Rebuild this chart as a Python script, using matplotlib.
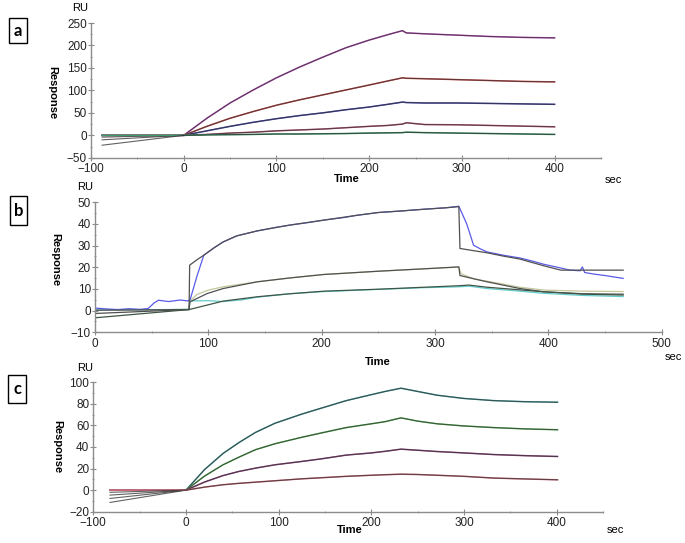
import matplotlib
matplotlib.use("Agg")
import matplotlib.pyplot as plt
from matplotlib.patches import Rectangle
from matplotlib.ticker import MultipleLocator

plt.rcParams["font.family"] = ["Liberation Sans", "DejaVu Sans"]

# ---- panel a: sensorgrams (sec, RU) ----
a_t = [-88, -60, -30, 0, 25, 50, 75, 100, 125, 150, 175, 200, 220, 236, 240,
       260, 295, 330, 365, 400]
a_curves = [
    [0, 0, 0, 0, 38, 72, 101, 128, 152, 174, 195, 212, 224, 233, 228, 226, 223, 220, 218, 217],
    [0, 0, 0, 0, 20, 38, 53, 67, 79, 90, 101, 112, 121, 128, 127, 126, 124, 122, 120, 119],
    [0, 0, 0, 0, 10, 20, 29, 37, 44, 50, 57, 63, 69, 74, 73, 72, 72, 71, 70, 69],
    [0, 0, 0, 0, 2, 5, 7, 10, 12, 14, 17, 20, 22, 25, 28, 24, 23.5, 22, 20.5, 19],
    [0, 0, 0, 0, 1, 1.5, 2, 3, 3, 3.5, 4, 5, 5.5, 6, 7, 6, 5, 4, 3, 2],
]
a_fit_start = [0, 0, -4, -10, -22]
a_colors = ["#c24fc2", "#d24a4a", "#4646b4", "#c25a7c", "#3a9a6a"]

# ---- panel b ----
b1_t = [0, 10, 20, 30, 40, 47, 52, 56, 65, 75, 82, 84, 90, 96, 105, 113, 125, 143,
        160, 172, 190, 202, 220, 231, 250, 270, 290, 310, 321, 328, 334, 340, 346,
        360, 375, 385, 396, 410, 419, 428, 430, 432, 440, 450, 466]
b1_y = [1.2, 0.8, 0.5, 0.9, 0.6, 1.0, 3.5, 4.8, 4.2, 4.9, 4.5, 5.2, 16, 25.6, 29,
        31.7, 34.5, 36.8, 38.5, 39.5, 40.8, 41.8, 43, 44, 45.3, 46, 46.8, 47.5, 48.2,
        40, 30.2, 28.5, 27.1, 25.6, 24.3, 23, 21.4, 19.8, 18.7, 18.4, 20.2, 17.6,
        16.9, 16.2, 14.9]
b1_fit_t = [0, 83, 83.5, 90, 96, 105, 113, 125, 143, 172, 202, 231, 250, 270, 290,
            310, 321, 322, 335, 346, 360, 375, 396, 411, 466]
b1_fit_y = [0.2, 0.5, 21, 23.5, 25.6, 29, 31.7, 34.5, 36.8, 39.5, 41.8, 44, 45.3,
            46, 46.8, 47.5, 48, 28.7, 27.6, 26.7, 25.2, 23.8, 20.7, 18.7, 18.7]

b2_t = [0, 40, 83, 84, 90, 100, 113, 143, 172, 202, 250, 290, 321, 323, 335, 346,
        375, 396, 431, 466]
b2_y = [0.3, 0.3, 0.6, 4.5, 7.5, 9.5, 11, 13.3, 15.1, 16.7, 18.2, 19.3, 20.1, 17,
        14.5, 13.6, 10.8, 9.5, 9.0, 8.8]
b2_fit_t = [0, 83, 83.5, 99, 113, 143, 172, 202, 250, 290, 321, 322, 346, 375, 396,
            431, 466]
b2_fit_y = [-1.3, 0.5, 4, 7.9, 10.2, 13.3, 15.1, 16.7, 18.2, 19.3, 20.2, 16.2, 13.3,
            10.2, 8.7, 7.8, 7.6]

b3_t = [0, 40, 83, 84, 100, 113, 130, 143, 172, 202, 250, 290, 321, 330, 346, 375,
        396, 431, 466]
b3_y = [0.4, 0.4, 0.6, 4.5, 4.6, 4.2, 5.0, 6.2, 7.8, 8.8, 9.8, 10.6, 11.0, 11.3,
        10.2, 9.0, 8.0, 7.0, 6.5]
b3_fit_t = [0, 83, 113, 143, 172, 202, 250, 290, 321, 330, 346, 375, 396, 431, 466]
b3_fit_y = [-3.3, 0.5, 4.4, 6.4, 7.8, 9.0, 9.9, 10.8, 11.5, 11.8, 10.8, 9.6, 8.7,
            7.6, 7.2]

# ---- panel c ----
c_t = [-82, 0, 20, 40, 57, 75, 96, 125, 146, 173, 200, 215, 232, 250, 271, 300,
       332, 365, 401]
c_curves = [
    [0, 0, 19, 34, 44, 53.5, 62, 70.5, 76, 83, 88.5, 91.5, 94.5, 91.5, 88, 85, 83, 82, 81.5],
    [0, 0, 13, 23.5, 30.5, 37.5, 43, 49, 53, 58, 61.5, 63.5, 67, 64, 61.5, 59.5, 58, 56.8, 56],
    [0, 0, 7.5, 13.5, 17.3, 20.4, 23.5, 26.6, 29, 32.5, 34.5, 36, 38, 37, 35.8, 34.5, 33, 32, 31.2],
    [0, 0, 2.8, 5, 6.3, 7.4, 8.7, 10.5, 11.5, 12.8, 13.8, 14.3, 14.8, 14.5, 13.8, 12.8, 11.2, 10.4, 9.6],
]
c_fit_start = [-11.4, -7.7, -4.6, -2.0]
c_colors = ["#4aa3a3", "#5cb85c", "#9a4a8a", "#d06a7a"]

FIT = "#2e2e2e"
SPINE = "#8c8c8c"


def style(ax, xlim, ylim, xmaj, ymaj, xmin, ymin):
    for s in ("top", "right"):
        ax.spines[s].set_visible(False)
    for s in ("left", "bottom"):
        ax.spines[s].set_color(SPINE)
        ax.spines[s].set_linewidth(1.0)
    ax.set_xlim(*xlim)
    ax.set_ylim(*ylim)
    ax.xaxis.set_major_locator(MultipleLocator(xmaj))
    ax.yaxis.set_major_locator(MultipleLocator(ymaj))
    ax.xaxis.set_minor_locator(MultipleLocator(xmin))
    ax.yaxis.set_minor_locator(MultipleLocator(ymin))
    ax.tick_params(which="major", direction="inout", length=4, width=0.8,
                   color=SPINE, labelsize=8.5, labelcolor="#222222")
    ax.tick_params(which="minor", direction="inout", length=2, width=0.6, color=SPINE)
    ax.tick_params(axis="y", pad=1)
    ax.tick_params(axis="x", pad=2)
    ax.patch.set_alpha(0)


def labels(fig, ru, resp, time, sec):
    W, H = 685.0, 543.0
    fig.text(ru[0] / W, 1 - ru[1] / H, "RU", fontsize=8, ha="center", va="center")
    fig.text(resp[0] / W, 1 - resp[1] / H, "Response", fontsize=8, fontweight="bold",
             rotation=270, ha="center", va="center")
    fig.text(time[0] / W, 1 - time[1] / H, "Time", fontsize=8, fontweight="bold",
             ha="center", va="center")
    fig.text(sec[0] / W, 1 - sec[1] / H, "sec", fontsize=8, ha="center", va="center")


def box(fig, x0, y0, x1, y1, letter):
    W, H = 685.0, 543.0
    fig.patches.append(Rectangle((x0 / W, 1 - y1 / H), (x1 - x0) / W, (y1 - y0) / H,
                                 transform=fig.transFigure, fill=False,
                                 edgecolor="black", linewidth=1.0))
    fig.text((x0 + x1) / 2 / W, 1 - (y0 + y1) / 2 / H, letter, fontsize=12,
             fontweight="bold", family=["Lato", "DejaVu Sans"],
             ha="center", va="center")


fig = plt.figure(figsize=(6.85, 5.43), dpi=100)

# panel a
ax = fig.add_axes([0.1328, 0.7094, 0.7445, 0.2482])
for y, col, y0 in zip(a_curves, a_colors, a_fit_start):
    ax.plot(a_t, y, color=col, lw=1.1)
    ax.plot([a_t[0], a_t[3]], [y0, y[3]], color=FIT, lw=0.8, alpha=0.75)
    ax.plot(a_t[3:], y[3:], color=FIT, lw=0.8, alpha=0.7)
style(ax, (-100, 450), (-50, 250), 100, 50, 50, 25)
labels(fig, (80, 8), (52, 93), (347, 179), (613, 180))
box(fig, 9, 18, 27, 43, "a")

# panel b
ax = fig.add_axes([0.1387, 0.388, 0.8273, 0.2394])
ax.plot(b2_t, b2_y, color="#c4c89a", lw=0.9)
ax.plot(b3_t, b3_y, color="#62cccc", lw=0.9)
ax.plot(b1_t, b1_y, color="#5a5ae6", lw=0.9)
ax.plot(b1_fit_t, b1_fit_y, color="#505050", lw=0.9)
ax.plot(b2_fit_t, b2_fit_y, color="#505050", lw=0.9)
ax.plot(b3_fit_t, b3_fit_y, color="#3f5546", lw=0.9)
style(ax, (0, 500), (-10, 50), 100, 10, 50, 5)
labels(fig, (85, 187), (55, 260), (378, 362), (673, 357))
box(fig, 10, 196, 27, 225, "b")

# panel c
ax = fig.add_axes([0.1362, 0.0576, 0.744, 0.2384])
for y, col, y0 in zip(c_curves, c_colors, c_fit_start):
    ax.plot(c_t, y, color=col, lw=1.1)
    ax.plot([c_t[0], c_t[1]], [y0, y[1]], color=FIT, lw=0.8, alpha=0.75)
    ax.plot(c_t[1:], y[1:], color=FIT, lw=0.8, alpha=0.7)
style(ax, (-100, 450), (-20, 100), 100, 20, 50, 10)
labels(fig, (85, 368), (57, 447), (350, 530), (615, 530))
box(fig, 8, 375, 26, 403, "c")

fig.savefig("out.png", dpi=100)
